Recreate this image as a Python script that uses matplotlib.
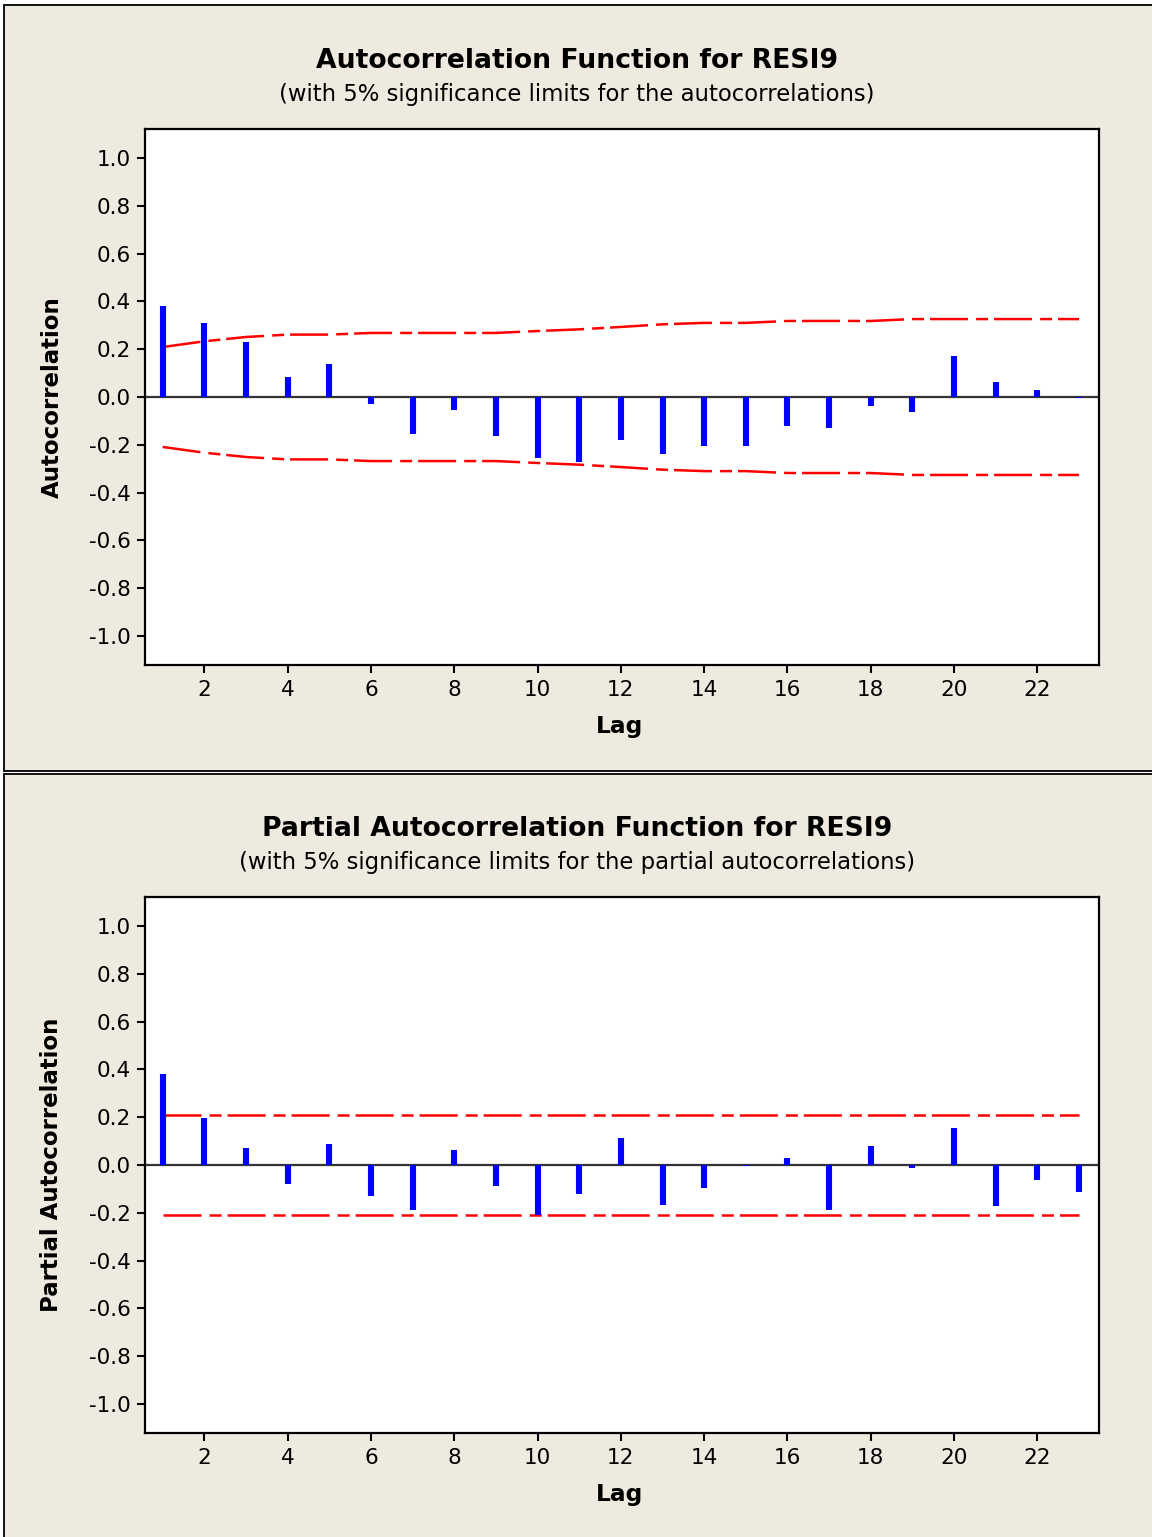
import matplotlib
matplotlib.use("Agg")
import matplotlib.pyplot as plt
from matplotlib.patches import Rectangle

plt.rcParams['font.family'] = ['DejaVu Sans']
plt.rcParams['lines.scale_dashes'] = False

lags = list(range(1, 24))
acf = [0.379, 0.311, 0.229, 0.085, 0.137, -0.029, -0.156, -0.054, -0.163, -0.256,
       -0.272, -0.180, -0.238, -0.205, -0.205, -0.123, -0.130, -0.038, -0.064, 0.170,
       0.061, 0.028, -0.004]
acf_limit = [0.209, 0.233, 0.251, 0.261, 0.261, 0.268, 0.268, 0.268, 0.268, 0.276,
             0.283, 0.293, 0.304, 0.310, 0.310, 0.318, 0.318, 0.318, 0.326, 0.326,
             0.326, 0.326, 0.326]
pacf = [0.380, 0.195, 0.070, -0.078, 0.087, -0.128, -0.188, 0.063, -0.088, -0.210,
        -0.121, 0.112, -0.169, -0.095, -0.004, 0.029, -0.188, 0.079, -0.011, 0.155,
        -0.170, -0.063, -0.112]
pacf_limit = [0.209] * 23

yticks = [-1.0, -0.8, -0.6, -0.4, -0.2, 0.0, 0.2, 0.4, 0.6, 0.8, 1.0]
xticks = [2, 4, 6, 8, 10, 12, 14, 16, 18, 20, 22]

titles = ["Autocorrelation Function for RESI9", "Partial Autocorrelation Function for RESI9"]
subtitles = ["(with 5% significance limits for the autocorrelations)",
             "(with 5% significance limits for the partial autocorrelations)"]
ylabels = ["Autocorrelation", "Partial Autocorrelation"]

W, H = 1152, 1537
fig = plt.figure(figsize=(W / 100, H / 100), dpi=100, facecolor='white')

BG = '#EEEAE0'
def px_rect(x0, y0, x1, y1):
    return (x0 / W, 1 - y1 / H, (x1 - x0) / W, (y1 - y0) / H)

for (x0, y0, x1, y1) in [(3.5, 5, 1170, 770.5), (3.5, 773.5, 1170, 1560)]:
    l, b, w, h = px_rect(x0, y0, x1, y1)
    fig.patches.append(Rectangle((l, b), w, h, transform=fig.transFigure,
                                 facecolor=BG, edgecolor='black', linewidth=1.3, zorder=-5))

axes_px = [(145, 129, 1099, 665), (145, 897, 1099, 1433)]
title_y = [61, 829]
sub_y = [95, 863]
lag_y = [727, 1495]

series = [(acf, acf_limit), (pacf, pacf_limit)]
red_dash = (0, (27.4, 5.8, 8.6, 4.3))

for i in range(2):
    x0, y0, x1, y1 = axes_px[i]
    ax = fig.add_axes(px_rect(x0, y0, x1, y1), zorder=2)
    ax.set_facecolor('white')
    vals, lim = series[i]
    ax.axhline(0, color='#333333', linewidth=1.6, zorder=1)
    ax.vlines(lags, 0, vals, color='#0000FF', linewidth=4.4, zorder=3,
              capstyle='butt')
    ax.plot(lags, lim, color='#FF0000', linewidth=1.8, linestyle=red_dash, zorder=2)
    ax.plot(lags, [-v for v in lim], color='#FF0000', linewidth=1.8, linestyle=red_dash, zorder=2)
    ax.set_xlim(0.575, 23.48)
    ax.set_ylim(-1.121, 1.121)
    ax.set_yticks(yticks)
    ax.set_yticklabels([f"{v:.1f}" for v in yticks])
    ax.set_xticks(xticks)
    ax.tick_params(axis='both', direction='out', length=6, width=1.5, labelsize=15.5,
                   colors='black')
    ax.tick_params(axis='y', pad=4)
    ax.tick_params(axis='x', pad=5)
    for s in ax.spines.values():
        s.set_linewidth(1.6)
        s.set_color('black')

    fig.text(577 / W, 1 - title_y[i] / H, titles[i], ha='center', va='center',
             fontsize=19.2, fontweight='bold')
    fig.text(577 / W, 1 - sub_y[i] / H, subtitles[i], ha='center', va='center',
             fontsize=16.4)
    fig.text(52 / W, 1 - ((y0 + y1) / 2) / H, ylabels[i], ha='center', va='center',
             rotation=90, fontsize=16.5, fontweight='bold')
    fig.text(620 / W, 1 - lag_y[i] / H, "Lag", ha='center', va='center',
             fontsize=16.8, fontweight='bold')

fig.savefig('out.png', dpi=100, facecolor='white')
